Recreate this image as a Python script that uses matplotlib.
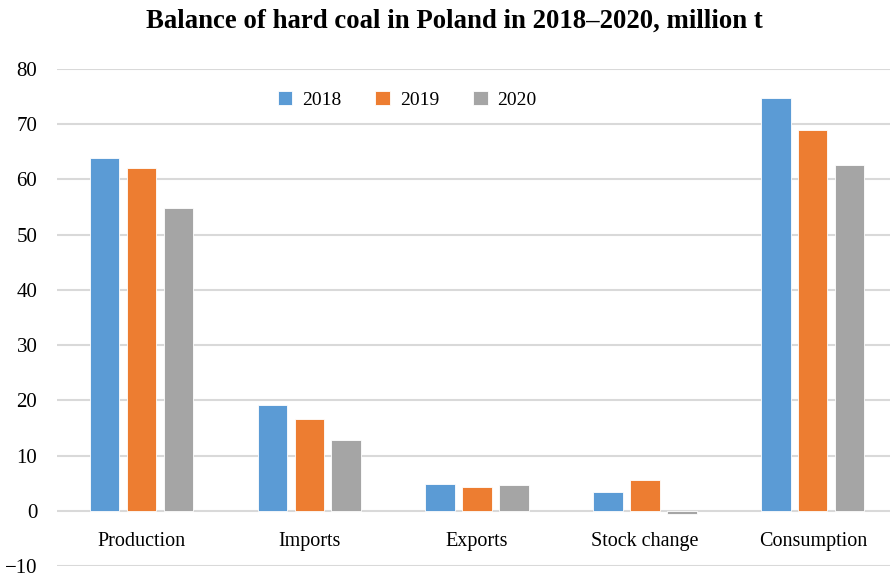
import numpy as np
import matplotlib
matplotlib.use('Agg')
import matplotlib.pyplot as plt

# Dados do gráfico
categorias = ['Production', 'Imports', 'Exports', 'Stock change', 'Consumption']
anos = ['2018', '2019', '2020']
valores_2018 = [63.9, 19.2, 4.8, 3.4, 74.8]
valores_2019 = [62.1, 16.7, 4.3, 5.6, 68.9]
valores_2020 = [54.8, 12.9, 4.6, -0.6, 62.6]
cores = ['#5B9BD5', '#ED7D31', '#A5A5A5']

plt.rcParams['font.family'] = ['Liberation Serif', 'DejaVu Serif']

fig = plt.figure(figsize=(8.9, 5.78), dpi=100)
ax = fig.add_axes([0.0646, 0.0208, 0.9354, 0.8598])

x = np.arange(len(categorias))
largura = 0.175
passo = 0.22
series = [valores_2018, valores_2019, valores_2020]
for i, (serie, ano) in enumerate(zip(series, anos)):
    ax.bar(x + (i - 1) * passo, serie, width=largura, color=cores[i],
           edgecolor='white', linewidth=0.6, label=ano, zorder=3)

ax.set_xlim(-0.5, 4.46)
ax.set_ylim(-10, 80)
ax.set_yticks(np.arange(-10, 81, 10))
ax.set_yticklabels(['\u221210'] + [str(v) for v in range(0, 81, 10)])
ax.grid(axis='y', color='#D9D9D9', linewidth=1.5, zorder=0)
ax.set_axisbelow(True)
for s in ax.spines.values():
    s.set_visible(False)
ax.tick_params(axis='y', length=0, pad=14.5, labelsize=15)
ax.set_xticks([])

# rótulos das categorias dentro da área do gráfico
for i, nome in enumerate(categorias):
    ax.text(i, -5.5, nome, ha='center', va='center', fontsize=14.5)

ax.legend(loc='center', bbox_to_anchor=(0.42, 0.938), ncol=3, frameon=False,
          fontsize=14, handlelength=0.75, handleheight=0.75, columnspacing=1.75,
          handletextpad=0.5)

fig.suptitle('Balance of hard coal in Poland in 2018\u20132020, million t',
             x=0.51, y=0.985, fontsize=19.3, fontweight='bold')

fig.savefig('out.png', dpi=100)
